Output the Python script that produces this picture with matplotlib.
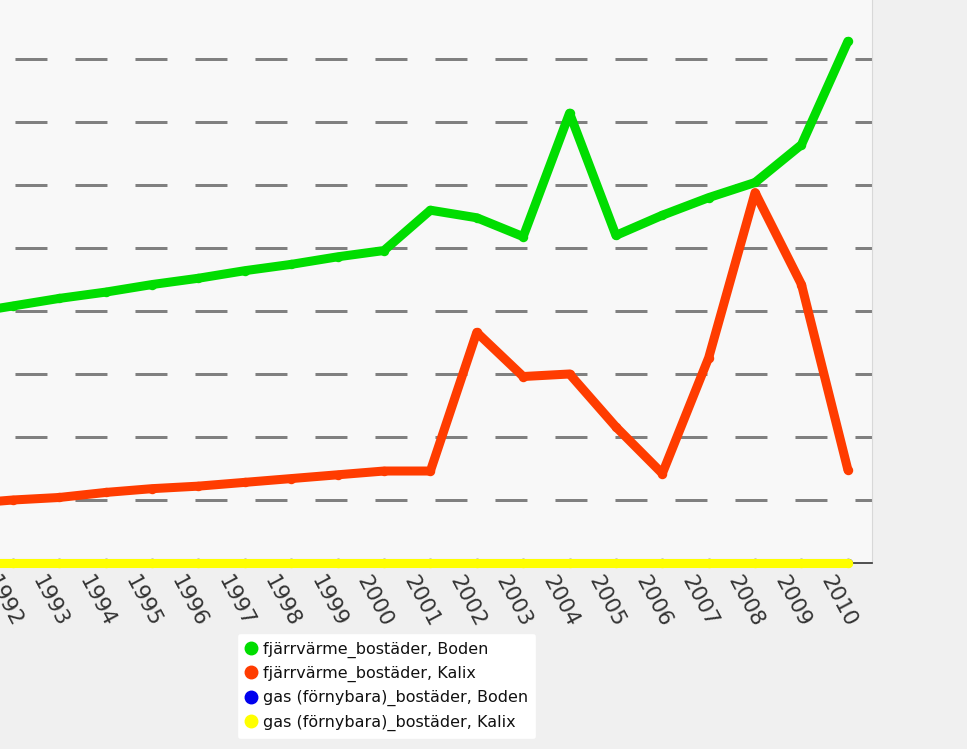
import matplotlib
matplotlib.use("Agg")
import matplotlib.pyplot as plt
import matplotlib.transforms as mtransforms
from matplotlib.lines import Line2D

# Data (gridline step = 50)
years = list(range(1990, 2011))
boden_fjv = [193, 198, 204, 210, 215, 221, 226, 232, 237, 243, 248,
             280, 274, 259, 357, 260, 276, 290, 302, 332, 414]
kalix_fjv = [44, 47, 50, 52, 56, 59, 61, 64, 67, 70, 73,
             73, 183, 148, 150, 108, 71, 163, 294, 221, 74]
boden_gas = [0] * len(years)
kalix_gas = [0] * len(years)

labels = ["fjärrvärme_bostäder, Boden", "fjärrvärme_bostäder, Kalix",
          "gas (förnybara)_bostäder, Boden", "gas (förnybara)_bostäder, Kalix"]
colors = ["#00dd00", "#ff3c00", "#0000ee", "#ffff00"]
series = [boden_fjv, kalix_fjv, boden_gas, kalix_gas]

plt.rcParams["lines.scale_dashes"] = False

W, H = 967, 749
fig = plt.figure(figsize=(W / 100, H / 100), dpi=100, facecolor="#f0f0f0")
# plot area runs off the left edge of the image, like the reference
ax = fig.add_axes([-104 / W, 186 / H, 976 / W, 567 / H], facecolor="#f8f8f8")

for vals, col in zip(series, colors):
  clip = col != "#ffff00"
  ax.plot(years, vals, color=col, lw=6.5, solid_capstyle="round",
          solid_joinstyle="round", marker="o", ms=6.8, mec=col, mew=0,
          clip_on=clip, zorder=3)

ax.set_xlim(1989.48, 2010.52)
ax.set_ylim(0, 450)
ax.set_yticks(range(50, 451, 50))
# dash phase chosen so the dashes line up after agg clips the line at the image edge
ax.yaxis.grid(True, color="#808080", lw=2.16, ls=(31.7, (23.04, 20.16)))
ax.set_axisbelow(True)

ax.spines["top"].set_visible(False)
ax.spines["left"].set_visible(False)
ax.spines["right"].set_color("#d8d8d8")
ax.spines["bottom"].set_color("#333333")
ax.spines["bottom"].set_linewidth(1.2)

ax.tick_params(left=False, labelleft=False)
ax.set_xticks(years)
ax.set_xticklabels([str(y) for y in years], rotation=-62, ha="left",
                   va="center", rotation_mode="anchor", fontsize=15.5,
                   color="#333333")
ax.tick_params(axis="x", length=2.5, width=1, color="#333333", pad=0)

offset = mtransforms.ScaledTranslation(-0.22, -0.11, fig.dpi_scale_trans)
for lab in ax.xaxis.get_majorticklabels():
  lab.set_transform(lab.get_transform() + offset)

handles = [Line2D([], [], ls="none", marker="o", ms=9, color=c) for c in colors]
leg = fig.legend(handles, labels, loc="upper left",
                 bbox_to_anchor=(237 / W, 1 - 633 / H), fontsize=11.5,
                 frameon=True, fancybox=True, facecolor="white",
                 edgecolor="#f0f0f0", framealpha=1, handlelength=0.6,
                 handletextpad=0.45, labelspacing=0.5, borderpad=0.55,
                 borderaxespad=0)
for t in leg.get_texts():
  t.set_color("#111111")

fig.savefig("out.png", dpi=100, facecolor=fig.get_facecolor())
